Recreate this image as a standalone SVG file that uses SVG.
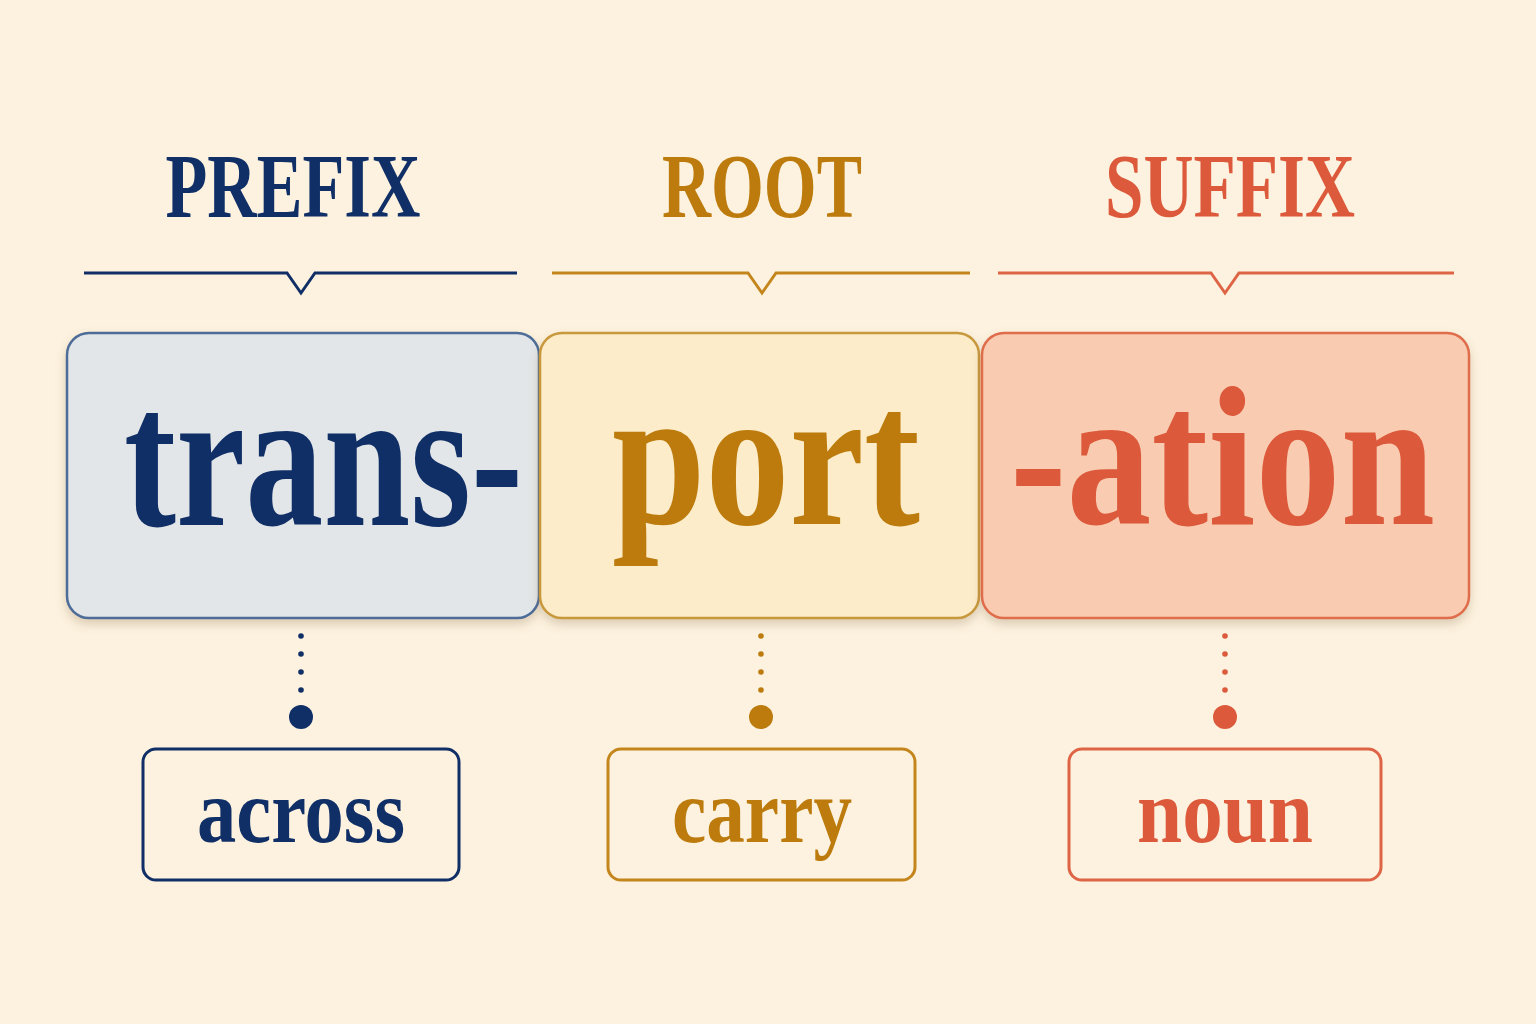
<svg xmlns="http://www.w3.org/2000/svg" width="1536" height="1024" viewBox="0 0 1536 1024">
<defs>
<filter id="sh" x="-10%" y="-10%" width="120%" height="130%">
<feDropShadow dx="0" dy="5" stdDeviation="5" flood-color="#8a6a40" flood-opacity="0.28"/>
</filter>
<style>
.t{font-family:"Liberation Serif","Times New Roman",serif;font-weight:bold;text-anchor:middle}
.hd{font-size:90px}
.big{font-size:200px}
.sm{font-size:92px}
.navy{fill:#102f66}
.gold{fill:#bc7b0c}
.coral{fill:#dc5a3b}
.ln{fill:none;stroke-width:3;stroke-linejoin:miter}
</style>
</defs>
<rect width="1536" height="1024" fill="#fcf2df"/>

<g id="prefix-header">
<text class="t hd navy" x="293" y="217" textLength="255" lengthAdjust="spacingAndGlyphs">PREFIX</text>
<path class="ln" stroke="#102f66" d="M84 273 H287 L301 293 L315 273 H517"/>
</g>
<g id="root-header">
<text class="t hd gold" x="762" y="217" textLength="200" lengthAdjust="spacingAndGlyphs">ROOT</text>
<path class="ln" stroke="#c4861c" d="M552 273 H748 L762 293 L776 273 H970"/>
</g>
<g id="suffix-header">
<text class="t hd coral" x="1230" y="217" textLength="250" lengthAdjust="spacingAndGlyphs">SUFFIX</text>
<path class="ln" stroke="#de6446" d="M998 273 H1211 L1225 293 L1239 273 H1454"/>
</g>

<g id="prefix-box">
<rect x="67" y="333" width="472" height="285" rx="22" fill="#e3e6e8" stroke="#4d6c97" stroke-width="2.5" filter="url(#sh)"/>
<text class="t big navy" x="323.5" y="525" textLength="399" lengthAdjust="spacingAndGlyphs">trans-</text>
</g>
<g id="root-box">
<rect x="540" y="333" width="439" height="285" rx="22" fill="#fcecc9" stroke="#c8983e" stroke-width="2.5" filter="url(#sh)"/>
<text class="t big gold" x="766" y="524" textLength="308" lengthAdjust="spacingAndGlyphs">port</text>
</g>
<g id="suffix-box">
<rect x="982" y="333" width="487" height="285" rx="22" fill="#f9ccb1" stroke="#df6c4c" stroke-width="2.5" filter="url(#sh)"/>
<text class="t big coral" x="1222.5" y="524" textLength="425" lengthAdjust="spacingAndGlyphs">-ation</text>
</g>

<g id="connectors">
<g class="navy"><circle cx="301" cy="636" r="2.8"/><circle cx="301" cy="654" r="2.8"/><circle cx="301" cy="672" r="2.8"/><circle cx="301" cy="690" r="2.8"/><circle cx="301" cy="717" r="12"/></g>
<g class="gold"><circle cx="761" cy="636" r="2.8"/><circle cx="761" cy="654" r="2.8"/><circle cx="761" cy="672" r="2.8"/><circle cx="761" cy="690" r="2.8"/><circle cx="761" cy="717" r="12"/></g>
<g class="coral"><circle cx="1225" cy="636" r="2.8"/><circle cx="1225" cy="654" r="2.8"/><circle cx="1225" cy="672" r="2.8"/><circle cx="1225" cy="690" r="2.8"/><circle cx="1225" cy="717" r="12"/></g>
</g>

<g id="across">
<rect x="143" y="749" width="316" height="131" rx="13" fill="none" stroke="#102f66" stroke-width="3"/>
<text class="t sm navy" x="301" y="842" textLength="208" lengthAdjust="spacingAndGlyphs">across</text>
</g>
<g id="carry">
<rect x="608" y="749" width="307" height="131" rx="13" fill="none" stroke="#c4861c" stroke-width="3"/>
<text class="t sm gold" x="762" y="842" textLength="180" lengthAdjust="spacingAndGlyphs">carry</text>
</g>
<g id="noun">
<rect x="1069" y="749" width="312" height="131" rx="13" fill="none" stroke="#de6446" stroke-width="3"/>
<text class="t sm coral" x="1225" y="842" textLength="176" lengthAdjust="spacingAndGlyphs">noun</text>
</g>
</svg>
